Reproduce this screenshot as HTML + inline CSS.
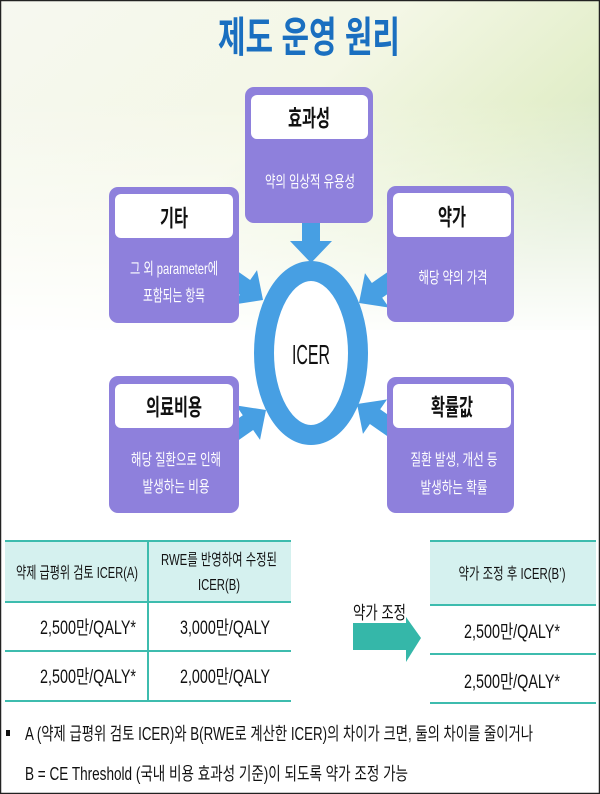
<!DOCTYPE html>
<html><head><meta charset="utf-8"><style>
html,body{margin:0;padding:0;}
body{width:600px;height:794px;overflow:hidden;background:#fff;}
svg{display:block;}
text{font-family:"Liberation Sans","Noto Sans CJK KR",sans-serif;}
</style></head><body>
<svg width="600" height="794" viewBox="0 0 600 794" xmlns="http://www.w3.org/2000/svg">
<defs>
<linearGradient id="bg" x1="0" y1="0" x2="1" y2="0.6">
<stop offset="0" stop-color="#f6f8f0"/>
<stop offset="0.5" stop-color="#f4f7e6"/>
<stop offset="0.8" stop-color="#e4efcc"/>
<stop offset="1" stop-color="#d6e6c6"/>
</linearGradient>
<linearGradient id="fade" x1="0" y1="0" x2="0" y2="1">
<stop offset="0" stop-color="#fff" stop-opacity="0"/>
<stop offset="1" stop-color="#fff" stop-opacity="1"/>
</linearGradient>
</defs>
<rect width="600" height="794" fill="#fff"/>
<rect width="600" height="330" fill="url(#bg)"/>
<rect y="100" width="600" height="240" fill="url(#fade)"/>
<rect x="0.5" y="0.5" width="599" height="793" fill="none" stroke="#222" stroke-width="1.5"/>
<text x="309" y="52" font-size="42" font-weight="bold" fill="#1a6fc0" text-anchor="middle" textLength="182" lengthAdjust="spacingAndGlyphs">제도 운영 원리</text>

<g fill="#479fe3">
<g transform="translate(311,263) rotate(90)"><polygon points="-55,-9 -22,-9 -22,-21 0,0 -22,21 -22,9 -55,9"/></g>
<g transform="translate(263,300) rotate(35)"><polygon points="-55,-9 -22,-9 -22,-21 0,0 -22,21 -22,9 -55,9"/></g>
<g transform="translate(359,303) rotate(145)"><polygon points="-55,-9 -22,-9 -22,-21 0,0 -22,21 -22,9 -55,9"/></g>
<g transform="translate(266,410) rotate(-35)"><polygon points="-55,-9 -22,-9 -22,-21 0,0 -22,21 -22,9 -55,9"/></g>
<g transform="translate(357,404) rotate(-145)"><polygon points="-55,-9 -22,-9 -22,-21 0,0 -22,21 -22,9 -55,9"/></g>
</g>
<ellipse cx="311" cy="353" rx="47" ry="82" fill="#fff" stroke="#479fe3" stroke-width="20"/>
<text x="311" y="364" font-size="28" fill="#111" text-anchor="middle" textLength="38" lengthAdjust="spacingAndGlyphs">ICER</text>

<g fill="#8e80dc">
<rect x="245" y="87" width="128" height="136" rx="9"/>
<rect x="109" y="187" width="130" height="136" rx="9"/>
<rect x="387" y="186" width="127" height="136" rx="9"/>
<rect x="109" y="376" width="130" height="137" rx="9"/>
<rect x="387" y="377" width="127" height="136" rx="9"/>
</g>
<g fill="#fff">
<rect x="251" y="95" width="117" height="44" rx="6"/>
<rect x="115" y="194" width="118" height="44" rx="6"/>
<rect x="393" y="193" width="118" height="44" rx="6"/>
<rect x="115" y="384" width="118" height="44" rx="6"/>
<rect x="393" y="384" width="118" height="44" rx="6"/>
</g>
<g font-size="23" font-weight="bold" fill="#111" text-anchor="middle">
<text x="309" y="126" textLength="42" lengthAdjust="spacingAndGlyphs">효과성</text>
<text x="174" y="226" textLength="28" lengthAdjust="spacingAndGlyphs">기타</text>
<text x="452" y="225" textLength="28" lengthAdjust="spacingAndGlyphs">약가</text>
<text x="174" y="415" textLength="56" lengthAdjust="spacingAndGlyphs">의료비용</text>
<text x="452" y="415" textLength="42" lengthAdjust="spacingAndGlyphs">확률값</text>
</g>
<g font-size="16" fill="#fff" text-anchor="middle">
<text x="310" y="187" textLength="90" lengthAdjust="spacingAndGlyphs">약의 임상적 유용성</text>
<text x="174" y="274" textLength="88" lengthAdjust="spacingAndGlyphs">그 외 parameter에</text>
<text x="174" y="301" textLength="62" lengthAdjust="spacingAndGlyphs">포함되는 항목</text>
<text x="453" y="283" textLength="69" lengthAdjust="spacingAndGlyphs">해당 약의 가격</text>
<text x="176" y="465" textLength="90" lengthAdjust="spacingAndGlyphs">해당 질환으로 인해</text>
<text x="176" y="492" textLength="67" lengthAdjust="spacingAndGlyphs">발생하는 비용</text>
<text x="454" y="465" textLength="87" lengthAdjust="spacingAndGlyphs">질환 발생, 개선 등</text>
<text x="454" y="493" textLength="67" lengthAdjust="spacingAndGlyphs">발생하는 확률</text>
</g>

<rect x="5" y="540" width="286" height="62" fill="#d5f1ef"/>
<rect x="430" y="541" width="166" height="64" fill="#d5f1ef"/>
<g stroke="#3dbcae" stroke-width="2">
<line x1="5" y1="541" x2="291" y2="541"/>
<line x1="5" y1="602" x2="291" y2="602"/>
<line x1="5" y1="651" x2="291" y2="651"/>
<line x1="5" y1="701" x2="291" y2="701"/>
<line x1="148" y1="541" x2="148" y2="701"/>
<line x1="430" y1="541" x2="596" y2="541"/>
<line x1="430" y1="605" x2="596" y2="605"/>
<line x1="430" y1="654" x2="596" y2="654"/>
<line x1="430" y1="703" x2="596" y2="703"/>
</g>
<g font-size="16" fill="#111" text-anchor="middle">
<text x="77" y="578" textLength="122" lengthAdjust="spacingAndGlyphs">약제 급평위 검토 ICER(A)</text>
<text x="219" y="565" textLength="116" lengthAdjust="spacingAndGlyphs">RWE를 반영하여 수정된</text>
<text x="219" y="590" textLength="42" lengthAdjust="spacingAndGlyphs">ICER(B)</text>
<text x="512" y="579" textLength="107" lengthAdjust="spacingAndGlyphs">약가 조정 후 ICER(B’)</text>
</g>
<g font-size="19" fill="#111" text-anchor="middle">
<text x="88" y="634" textLength="96" lengthAdjust="spacingAndGlyphs">2,500만/QALY*</text>
<text x="88" y="683" textLength="96" lengthAdjust="spacingAndGlyphs">2,500만/QALY*</text>
<text x="225" y="634" textLength="90" lengthAdjust="spacingAndGlyphs">3,000만/QALY</text>
<text x="225" y="683" textLength="90" lengthAdjust="spacingAndGlyphs">2,000만/QALY</text>
<text x="512" y="638" textLength="96" lengthAdjust="spacingAndGlyphs">2,500만/QALY*</text>
<text x="512" y="688" textLength="96" lengthAdjust="spacingAndGlyphs">2,500만/QALY*</text>
</g>
<polygon points="353,623 406,623 406,617 421,638 406,662 406,650 353,650" fill="#35b7a9"/>
<text x="353" y="619" font-size="18" fill="#111" textLength="53" lengthAdjust="spacingAndGlyphs">약가 조정</text>

<rect x="6" y="730" width="4" height="6" fill="#111"/>
<g font-size="18" fill="#111">
<text x="25" y="740" textLength="508" lengthAdjust="spacingAndGlyphs">A (약제 급평위 검토 ICER)와 B(RWE로 계산한 ICER)의 차이가 크면, 둘의 차이를 줄이거나</text>
<text x="25" y="780" textLength="383" lengthAdjust="spacingAndGlyphs">B = CE Threshold (국내 비용 효과성 기준)이 되도록 약가 조정 가능</text>
</g>
</svg>
</body></html>
